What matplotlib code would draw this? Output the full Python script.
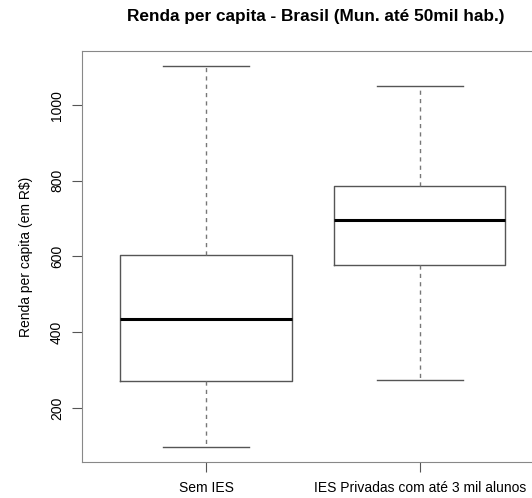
import matplotlib.pyplot as plt

plt.rcParams['font.family'] = ['Liberation Sans', 'DejaVu Sans']

# dados (R boxplot)
categorias = ['Sem IES', 'IES Privadas com até 3 mil alunos']
whisker_inf = [97, 274]
q1 = [271, 577]
mediana = [435, 696]
q3 = [604, 786]
whisker_sup = [1103, 1050]

stats = []
for i in range(len(categorias)):
    stats.append({'label': categorias[i], 'whislo': whisker_inf[i], 'q1': q1[i],
                  'med': mediana[i], 'q3': q3[i], 'whishi': whisker_sup[i]})

fig = plt.figure(figsize=(5.32, 4.98), dpi=100)
ax = fig.add_axes([82 / 532, 36 / 498, 462 / 532, 411 / 498])

cinza = '#555555'
ax.bxp(stats, positions=[1, 2], widths=0.8, showfliers=False,
       boxprops=dict(color=cinza, linewidth=1),
       whiskerprops=dict(color='#777777', linewidth=1, linestyle=(0, (3, 3))),
       capprops=dict(color=cinza, linewidth=1),
       medianprops=dict(color='black', linewidth=2.2))

ax.set_xlim(0.42, 2.58)
ax.set_ylim(57, 1143)
ax.set_yticks([200, 400, 600, 800, 1000])
for s in ax.spines.values():
    s.set_color('#888888')
ax.tick_params(axis='both', colors='#555555', labelcolor='black', length=7, labelsize=10)
ax.tick_params(axis='y', pad=6)
ax.tick_params(axis='x', pad=7)
plt.setp(ax.get_yticklabels(), rotation=90, va='center')

ax.set_ylabel('Renda per capita (em R$)', fontsize=10, labelpad=12)
fig.text(316 / 532, 1 - 17 / 498, 'Renda per capita - Brasil (Mun. até 50mil hab.)',
         ha='center', va='center', fontsize=12.4, fontweight='bold')

fig.savefig('out.png', dpi=100)
